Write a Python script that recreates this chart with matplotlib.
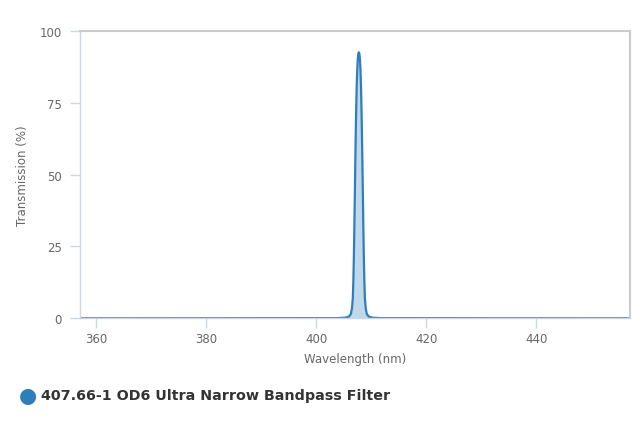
#Transmission spectrum plot for a narrow bandpass filter
import matplotlib.pyplot as plt

#wavelength (nm) and transmission (%)
wavelength = [357.0, 403.7, 405.2, 405.9, 406.25, 406.45, 406.6, 406.7, 406.8, 406.9,
              407.0, 407.1, 407.2, 407.3, 407.4, 407.5, 407.6, 407.7, 407.8, 407.9,
              408.0, 408.1, 408.2, 408.3, 408.4, 408.5, 408.6, 408.7, 408.8, 408.95,
              409.15, 409.5, 410.2, 411.7, 457.0]
transmission = [0.0, 0.05, 0.2, 0.6, 1.5, 3.5, 7.0, 13.0, 22.0, 34.0,
                 47.0, 60.0, 71.0, 80.0, 86.0, 90.0, 92.0, 92.5, 92.0, 90.0,
                 86.0, 80.0, 71.0, 60.0, 47.0, 34.0, 22.0, 13.0, 7.0, 3.5,
                 1.5, 0.6, 0.2, 0.05, 0.0]

xTicks = [360, 380, 400, 420, 440]
yTicks = [0, 25, 50, 75, 100]
seriesName = "407.66-1 OD6 Ultra Narrow Bandpass Filter"
lineColor = "#2f7ebc"
axisColor = "#ccd6eb"
labelColor = "#666666"

fig = plt.figure(figsize=(6.4, 4.27), dpi=100)
ax = fig.add_axes([80/640, 1-319.3/427, 550/640, 287.6/427])

#curve with light fill underneath
ax.fill_between(wavelength, transmission, 0, color=lineColor, alpha=0.3, linewidth=0)
ax.plot(wavelength, transmission, color=lineColor, linewidth=1.6,
        solid_joinstyle="round", solid_capstyle="round")

ax.set_xlim(357.0, 457.0)
ax.set_ylim(0, 100)
ax.set_xticks(xTicks)
ax.set_yticks(yTicks)

#frame: left/bottom in blue-grey, top/right in light grey
ax.spines["left"].set_color(axisColor)
ax.spines["bottom"].set_color(axisColor)
ax.spines["top"].set_color("#cccccc")
ax.spines["right"].set_color("#cccccc")
for s in ax.spines.values():
    s.set_linewidth(1)
ax.spines["top"].set_linewidth(1.5)
ax.spines["right"].set_linewidth(1.5)

ax.tick_params(axis="both", colors=axisColor, labelcolor=labelColor,
               labelsize=8.5, length=7, width=1)
ax.tick_params(axis="x", pad=3)
ax.tick_params(axis="y", pad=6)

ax.set_xlabel("Wavelength (nm)", color=labelColor, fontsize=8.5, labelpad=5)
ax.set_ylabel("Transmission (%)", color=labelColor, fontsize=8.5, labelpad=8)

#legend entry drawn below the plot area
fig.text(28/640, 1-396/427, "\u25CF", color=lineColor, fontsize=15,
         ha="center", va="center")
fig.text(41/640, 1-396/427, seriesName, color="#333333", fontsize=10.3,
         fontweight="bold", ha="left", va="center")

plt.savefig("out.png", dpi=100)
